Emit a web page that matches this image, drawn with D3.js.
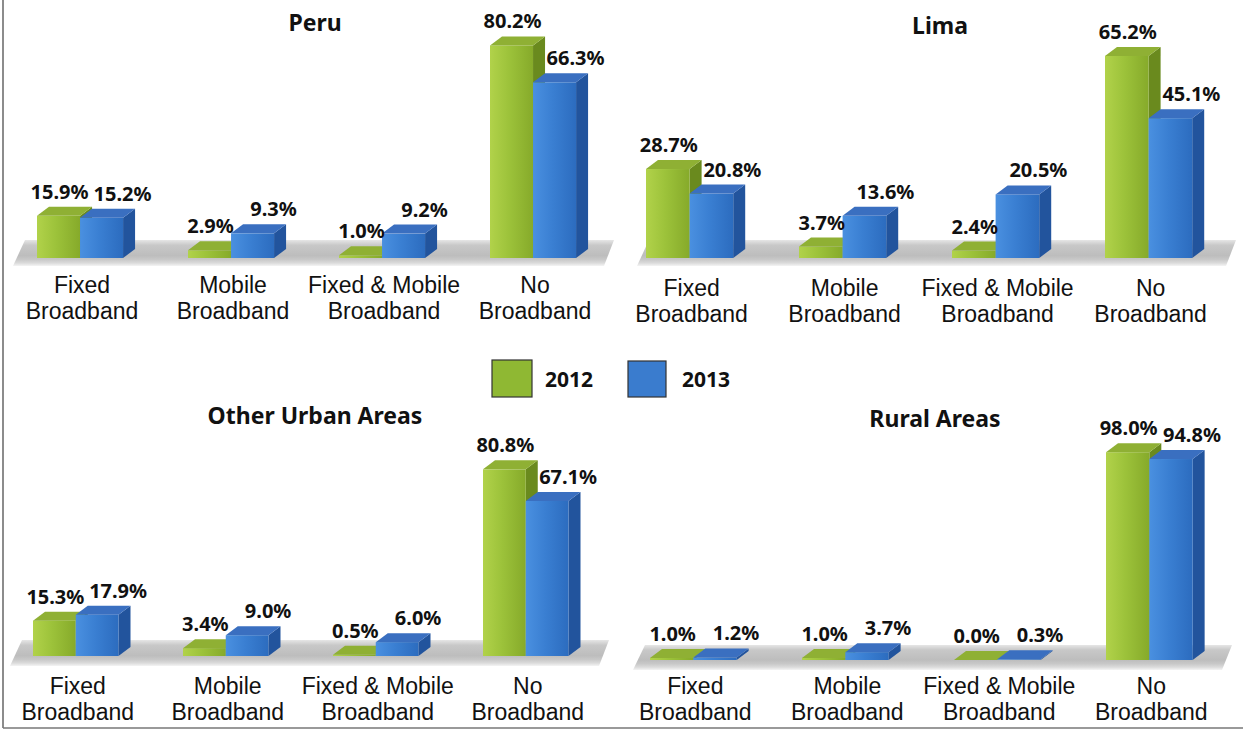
<!DOCTYPE html>
<html>
<head>
<meta charset="utf-8">
<script src="https://cdn.jsdelivr.net/npm/d3@7"></script>
<style>
  html, body { margin: 0; padding: 0; background: #fff; }
  svg { display: block; }
  text { font-family: "Noto Sans", "Open Sans", sans-serif; }
  text.cat { font-family: "Liberation Sans", Arial, sans-serif; }
</style>
</head>
<body>
<svg id="chart" width="1243" height="731"></svg>
<script>
// ---------------- DATA ----------------
const categories = ["Fixed Broadband", "Mobile Broadband", "Fixed & Mobile Broadband", "No Broadband"];
const categoryLines = [["Fixed", "Broadband"], ["Mobile", "Broadband"], ["Fixed & Mobile", "Broadband"], ["No", "Broadband"]];
const years = ["2012", "2013"];
const regions = ["Peru", "Lima", "Other Urban Areas", "Rural Areas"];

const peru2012 = [15.9, 2.9, 1.0, 80.2];
const peru2013 = [15.2, 9.3, 9.2, 66.3];
const lima2012 = [28.7, 3.7, 2.4, 65.2];
const lima2013 = [20.8, 13.6, 20.5, 45.1];
const urban2012 = [15.3, 3.4, 0.5, 80.8];
const urban2013 = [17.9, 9.0, 6.0, 67.1];
const rural2012 = [1.0, 1.0, 0.0, 98.0];
const rural2013 = [1.2, 3.7, 0.3, 94.8];

const seriesByRegion = [
  [peru2012, peru2013],
  [lima2012, lima2013],
  [urban2012, urban2013],
  [rural2012, rural2013]
];

// ---------------- LAYOUT / STYLE ----------------
const layout = [
  { x0: 37,  step: 151, base: 258, k: 2.65, titleX: 315, titleY: 31,  labelY: 293, floorTop: 240, floorBot: 266, floorL: 13,  floorR: 614 },
  { x0: 646, step: 153, base: 258, k: 3.10, titleX: 940, titleY: 34,  labelY: 296, floorTop: 240, floorBot: 266, floorL: 637, floorR: 1236 },
  { x0: 33,  step: 150, base: 656, k: 2.31, titleX: 315, titleY: 424, labelY: 694, floorTop: 640, floorBot: 666, floorL: 10,  floorR: 609 },
  { x0: 650, step: 152, base: 660, k: 2.12, titleX: 935, titleY: 427, labelY: 694, floorTop: 645, floorBot: 670, floorL: 633, floorR: 1232 }
];
const DX = 12, DY = 9;
const pIn = 0.43, pOut = 0.2;
const colors = {
  "2012": { front: ["#b1d24a", "#9cc23a", "#86aa2a"], side: "#6a8a1e", top: "#8fb034", legend: "#8fb833" },
  "2013": { front: ["#4a90e0", "#3a7fd2", "#2c6cbf"], side: "#22549d", top: "#3a6fc0", legend: "#3a7cce" }
};
const labelOffset = { "2012": 1, "2013": 21 };

const svg = d3.select("#chart");
const defs = svg.append("defs");

years.forEach(yr => {
  const g = defs.append("linearGradient").attr("id", "front" + yr)
    .attr("x1", "0").attr("x2", "1").attr("y1", "0").attr("y2", "0");
  g.append("stop").attr("offset", "0%").attr("stop-color", colors[yr].front[0]);
  g.append("stop").attr("offset", "45%").attr("stop-color", colors[yr].front[1]);
  g.append("stop").attr("offset", "100%").attr("stop-color", colors[yr].front[2]);
});
const fg = defs.append("linearGradient").attr("id", "floorGrad")
  .attr("x1", "0").attr("x2", "0").attr("y1", "0").attr("y2", "1");
[["0%", "#e6e6e6"], ["20%", "#c8c8c8"], ["60%", "#bdbdbd"], ["75%", "#c8c8c8"], ["88%", "#dadada"], ["100%", "#f4f4f4"]]
  .forEach(([o, c]) => fg.append("stop").attr("offset", o).attr("stop-color", c));

// Frame lines
svg.append("line").attr("x1", 3).attr("x2", 3).attr("y1", 0).attr("y2", 728)
  .attr("stroke", "#666").attr("stroke-width", 1.5);
svg.append("line").attr("x1", 3).attr("x2", 1243).attr("y1", 728).attr("y2", 728)
  .attr("stroke", "#777").attr("stroke-width", 1.5);

regions.forEach((region, ri) => {
  const L = layout[ri];
  const s = L.step;
  const left = L.x0 - pOut * s;
  const x = d3.scaleBand().domain(categories)
    .range([left, left + s * (categories.length - pIn + 2 * pOut)])
    .paddingInner(pIn).paddingOuter(pOut);
  const xs = d3.scaleBand().domain(years).range([0, x.bandwidth()]);
  const y = d3.scaleLinear().domain([0, 100]).range([L.base, L.base - 100 * L.k]);

  const g = svg.append("g");

  // floor
  g.append("polygon")
    .attr("points", [[L.floorL + 12, L.floorTop], [L.floorR, L.floorTop], [L.floorR - 10, L.floorBot], [L.floorL, L.floorBot]].map(p => p.join(",")).join(" "))
    .attr("fill", "url(#floorGrad)");

  // title
  g.append("text").attr("x", L.titleX).attr("y", L.titleY)
    .attr("text-anchor", "middle").attr("font-size", 23).attr("font-weight", "bold")
    .attr("fill", "#111").text(region);

  // bars
  const rows = [];
  years.forEach((yr, si) => {
    seriesByRegion[ri][si].forEach((v, ci) => rows.push({ yr, v, cat: categories[ci] }));
  });

  const bars = g.selectAll("g.bar").data(rows).join("g").attr("class", "bar");
  bars.each(function (d) {
    const sel = d3.select(this);
    const bx = x(d.cat) + xs(d.yr);
    const w = xs.bandwidth();
    const yt = y(d.v);
    const yb = y(0);
    sel.append("polygon")
      .attr("points", [[bx + w, yt], [bx + w + DX, yt - DY], [bx + w + DX, yb - DY], [bx + w, yb]].map(p => p.join(",")).join(" "))
      .attr("fill", colors[d.yr].side);
    sel.append("rect").attr("x", bx).attr("y", yt).attr("width", w).attr("height", yb - yt)
      .attr("fill", "url(#front" + d.yr + ")");
    sel.append("polygon")
      .attr("points", [[bx, yt], [bx + DX, yt - DY], [bx + w + DX, yt - DY], [bx + w, yt]].map(p => p.join(",")).join(" "))
      .attr("fill", colors[d.yr].top);
  });

  // value labels
  g.selectAll("text.val").data(rows).join("text").attr("class", "val")
    .attr("x", d => x(d.cat) + xs(d.yr) + xs.bandwidth() / 2 + labelOffset[d.yr])
    .attr("y", d => y(d.v) - DY - 8)
    .attr("text-anchor", "middle").attr("font-size", 20).attr("font-weight", "bold")
    .attr("fill", "#111")
    .text(d => d.v.toFixed(1) + "%");

  // category labels (one text element per line)
  categories.forEach((c, ci) => {
    categoryLines[ci].forEach((line, li) => {
      g.append("text").attr("class", "cat").attr("text-anchor", "middle")
        .attr("font-size", 23).attr("fill", "#111")
        .attr("x", x(c) + x.bandwidth() / 2 + 2).attr("y", L.labelY + li * 26).text(line);
    });
  });
});

// Legend
const legend = svg.append("g");
const legendPos = [{ rx: 492, ry: 360, w: 40, h: 37, tx: 545 }, { rx: 628, ry: 361, w: 38, h: 36, tx: 682 }];
years.forEach((yr, i) => {
  const p = legendPos[i];
  legend.append("rect").attr("x", p.rx).attr("y", p.ry).attr("width", p.w).attr("height", p.h)
    .attr("fill", colors[yr].legend).attr("stroke", "#333").attr("stroke-width", 1.2);
  legend.append("text").attr("x", p.tx).attr("y", 387).attr("font-size", 21).attr("font-weight", "bold")
    .attr("fill", "#111").text(yr);
});
</script>
</body>
</html>
